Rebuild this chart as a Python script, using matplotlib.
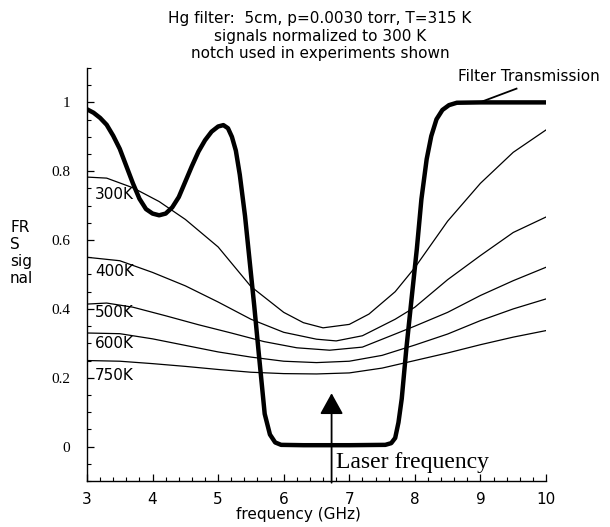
import matplotlib
matplotlib.use("Agg")
import matplotlib.pyplot as plt
from matplotlib.ticker import MultipleLocator, FixedLocator

# Filter transmission (thick curve)
filt_x = [3.0, 3.1, 3.2, 3.3, 3.4, 3.5, 3.6, 3.7, 3.8, 3.9, 4.0, 4.1, 4.2, 4.3, 4.4, 4.5, 4.6,
          4.7, 4.8, 4.9, 5.0, 5.08, 5.15, 5.21, 5.27, 5.33, 5.41, 5.48, 5.55, 5.62, 5.71, 5.79,
          5.87, 5.96, 6.3, 7.0, 7.55, 7.64, 7.70, 7.75, 7.80, 7.87, 7.95, 8.03, 8.10, 8.18,
          8.25, 8.33, 8.42, 8.52, 8.64, 9.0, 10.0]
filt_y = [0.98, 0.97, 0.955, 0.935, 0.903, 0.865, 0.815, 0.765, 0.72, 0.69, 0.677, 0.672, 0.677,
          0.695, 0.725, 0.77, 0.815, 0.857, 0.89, 0.915, 0.93, 0.934, 0.925, 0.9, 0.86, 0.79,
          0.67, 0.54, 0.41, 0.27, 0.095, 0.035, 0.012, 0.005, 0.004, 0.004, 0.005, 0.01, 0.025,
          0.07, 0.139, 0.284, 0.43, 0.574, 0.719, 0.835, 0.902, 0.951, 0.978, 0.992, 0.999,
          1.0, 1.0]

# Signal curves vs temperature
x300 = [3.0, 3.3, 3.7, 4.1, 4.5, 5.0, 5.5, 6.0, 6.3, 6.6, 7.0, 7.3, 7.7, 8.0, 8.5, 9.0, 9.5, 10.0]
y300 = [0.783, 0.78, 0.752, 0.712, 0.66, 0.58, 0.465, 0.39, 0.36, 0.345, 0.355, 0.385, 0.45, 0.52, 0.655, 0.765, 0.855, 0.92]

x400 = [3.0, 3.5, 4.0, 4.5, 5.0, 5.5, 6.0, 6.5, 6.8, 7.2, 7.7, 8.0, 8.5, 9.0, 9.5, 10.0]
y400 = [0.55, 0.54, 0.506, 0.467, 0.42, 0.37, 0.332, 0.312, 0.307, 0.322, 0.37, 0.405, 0.485, 0.555, 0.622, 0.667]

x500 = [3.0, 3.3, 3.7, 4.2, 4.7, 5.2, 5.7, 6.2, 6.7, 7.2, 7.7, 8.0, 8.5, 9.0, 9.5, 10.0]
y500 = [0.414, 0.417, 0.405, 0.38, 0.354, 0.33, 0.305, 0.287, 0.28, 0.289, 0.327, 0.35, 0.39, 0.439, 0.482, 0.521]

x600 = [3.0, 3.5, 4.0, 4.5, 5.0, 5.5, 6.0, 6.5, 7.0, 7.5, 8.0, 8.5, 9.0, 9.5, 10.0]
y600 = [0.33, 0.328, 0.313, 0.294, 0.275, 0.26, 0.248, 0.244, 0.248, 0.265, 0.295, 0.327, 0.366, 0.4, 0.429]

x750 = [3.0, 3.5, 4.0, 4.5, 5.0, 5.5, 6.0, 6.5, 7.0, 7.5, 8.0, 8.5, 9.0, 9.5, 10.0]
y750 = [0.25, 0.248, 0.241, 0.233, 0.224, 0.216, 0.212, 0.211, 0.214, 0.228, 0.25, 0.272, 0.296, 0.318, 0.337]

temp_labels = ["300K", "400K", "500K", "600K", "750K"]
label_y = [0.733, 0.508, 0.39, 0.30, 0.207]

laser_freq = 6.73

xticks = [3, 4, 5, 6, 7, 8, 9, 10]
yticks = [0, 0.2, 0.4, 0.6, 0.8, 1.0]
ytick_labels = ["0", "0.2", "0.4", "0.6", "0.8", "1"]

plt.rcParams['font.family'] = ['DejaVu Sans']

fig = plt.figure(figsize=(6.10, 5.27), dpi=100)
ax = fig.add_axes([0.1426, 0.0873, 0.7525, 0.7837])

ax.set_xlim(3, 10)
ax.set_ylim(-0.1, 1.1)

for xs, ys in [(x300, y300), (x400, y400), (x500, y500), (x600, y600), (x750, y750)]:
    ax.plot(xs, ys, color='black', lw=0.9)
ax.plot(filt_x, filt_y, color='black', lw=3.2, solid_capstyle='butt', solid_joinstyle='round')

for lab, ly in zip(temp_labels, label_y):
    ax.text(3.12, ly, lab, fontsize=11, va='center', ha='left')

# laser arrow
ax.annotate("", xy=(laser_freq, 0.155), xytext=(laser_freq, -0.105),
            arrowprops=dict(arrowstyle='-|>,head_length=0.65,head_width=0.36',
                            mutation_scale=20, lw=1.3, color='black',
                            shrinkA=0, shrinkB=0), annotation_clip=False)
ax.text(6.80, -0.062, "Laser frequency", fontsize=17, family='Liberation Serif',
        ha='left', va='baseline')

# Filter transmission label and pointer
ax.plot([8.99, 9.55], [1.0, 1.04], color='black', lw=1.3, clip_on=False)
ax.text(8.66, 1.062, "Filter Transmission", fontsize=11, ha='left', va='baseline', clip_on=False)

# axes styling
ax.spines['top'].set_visible(False)
ax.spines['right'].set_visible(False)
ax.spines['left'].set_linewidth(1.0)
ax.spines['bottom'].set_linewidth(1.0)

ax.xaxis.set_major_locator(FixedLocator(xticks))
ax.xaxis.set_minor_locator(MultipleLocator(0.2))
ax.yaxis.set_major_locator(FixedLocator(yticks))
ax.yaxis.set_minor_locator(MultipleLocator(0.05))
ax.set_yticklabels(ytick_labels, family='Liberation Serif', fontsize=11)
ax.set_xticklabels([str(t) for t in xticks], fontsize=11)
ax.tick_params(axis='both', which='major', direction='in', length=5, width=0.9, color='black')
ax.tick_params(axis='both', which='minor', direction='in', length=3, width=0.8, color='black')
ax.tick_params(axis='y', which='major', pad=12)
ax.tick_params(axis='x', which='major', pad=8)

fig.text(298 / 610, 1 - 514 / 527, "frequency (GHz)", fontsize=11, ha='center', va='center')
fig.text(10 / 610, 1 - 253 / 527, "FR\nS\nsig\nnal", fontsize=11, ha='left', va='center',
         linespacing=1.15)

fig.text(320 / 610, 1 - 36 / 527,
         "Hg filter:  5cm, p=0.0030 torr, T=315 K\nsignals normalized to 300 K\nnotch used in experiments shown",
         fontsize=11, ha='center', va='center', linespacing=1.2)

fig.savefig("out.png", dpi=100)
